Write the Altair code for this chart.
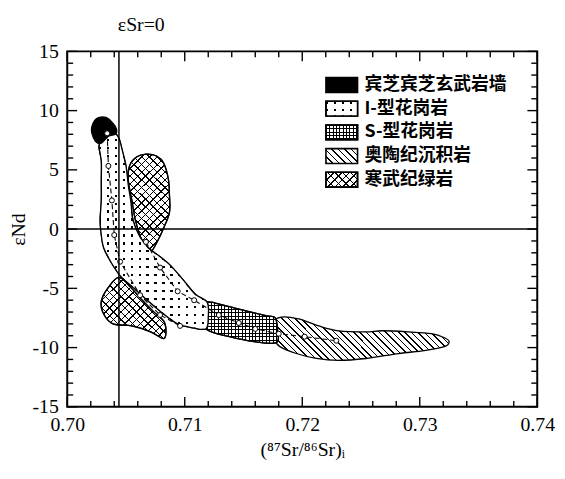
import math
import altair as alt
import pandas as pd

# ---------------- data ----------------
X0, X1 = 0.70, 0.74
Y0, Y1 = -15, 15
W, H = 476, 360

x_major = [0.70, 0.71, 0.72, 0.73, 0.74]
y_major = [-15, -10, -5, 0, 5, 10, 15]
x_minor = [round(0.70 + 0.002 * i, 3) for i in range(21) if i % 5]
y_minor = [v for v in range(-14, 15) if v % 5]

esr0_x = 0.7044   # εSr = 0 reference line

basalt_x = [0.7021, 0.7021, 0.7025, 0.7033, 0.7039, 0.7042, 0.7041, 0.7035, 0.7029, 0.7024]
basalt_y = [8.08, 8.67, 9.33, 9.42, 8.92, 8.42, 8.0, 7.83, 7.25, 7.42]

itype_x = [0.7030, 0.7035, 0.7040, 0.7044, 0.7047, 0.7050, 0.7052, 0.7054, 0.7056, 0.7061,
           0.7069, 0.7079, 0.7088, 0.7099, 0.7109, 0.7119, 0.7120, 0.7118, 0.7107, 0.7094,
           0.7082, 0.7069, 0.7056, 0.7045, 0.7037, 0.7031, 0.7029, 0.7028, 0.7029, 0.7029,
           0.7029, 0.7027]
itype_y = [7.92, 8.25, 8.17, 7.67, 6.58, 5.33, 3.67, 2.42, 0.75, -0.5,
           -1.58, -2.33, -3.08, -4.33, -5.5, -6.17, -7.42, -8.42, -8.33, -8.0,
           -7.17, -6.08, -4.92, -3.92, -2.75, -1.58, -0.5, 0.75, 2.42, 4.08,
           5.75, 7.0]

stype_x = [0.7118, 0.7136, 0.7153, 0.7170, 0.7177, 0.7179, 0.7178, 0.7159, 0.7138, 0.7119, 0.7117]
stype_y = [-6.17, -6.5, -6.92, -7.33, -7.5, -8.58, -9.58, -9.5, -9.08, -8.5, -7.42]

ordo_x = [0.7174, 0.7182, 0.7197, 0.7214, 0.7231, 0.7254, 0.7268, 0.7290, 0.7310, 0.7321,
          0.7325, 0.7321, 0.7304, 0.7282, 0.7254, 0.7231, 0.7212, 0.7195, 0.7181, 0.7176]
ordo_y = [-8.0, -7.42, -7.58, -8.17, -8.58, -8.67, -8.58, -8.67, -8.83, -9.17,
          -9.5, -9.92, -10.25, -10.5, -10.92, -11.08, -10.92, -10.5, -9.92, -9.25]

green1_x = [0.7067, 0.7076, 0.7082, 0.7086, 0.7087, 0.7087, 0.7082, 0.7076, 0.7071, 0.7066,
            0.7062, 0.7058, 0.7055, 0.7052, 0.7053, 0.7059]
green1_y = [6.33, 6.17, 5.58, 4.25, 2.83, 1.42, 0.08, -1.17, -1.92, -1.5,
            -0.58, 0.75, 2.42, 4.08, 5.33, 6.08]

green2_x = [0.7044, 0.7035, 0.7029, 0.7031, 0.7039, 0.7055, 0.7071, 0.7082, 0.7084, 0.7082,
            0.7073, 0.7063, 0.7054]
green2_y = [-4.08, -4.92, -6.08, -7.17, -8.0, -8.17, -8.67, -9.25, -8.58, -7.75,
            -6.92, -5.92, -4.92]

trend1_x = [0.7034, 0.7035, 0.7038, 0.7040, 0.7045, 0.7062, 0.7079, 0.7096]
trend1_y = [8.08, 5.33, 2.42, -0.5, -2.75, -5.58, -7.25, -8.17]
trend2_x = [0.7067, 0.7079, 0.7094, 0.7108, 0.7129, 0.7146, 0.7160, 0.7180, 0.7202, 0.7229]
trend2_y = [-1.08, -3.25, -5.25, -6.0, -7.25, -7.92, -8.42, -8.83, -9.08, -9.42]

legend_labels = ["宾芝宾芝玄武岩墙", "I-型花岗岩", "S-型花岗岩", "奥陶纪沉积岩", "寒武纪绿岩"]

# ---------------- helpers ----------------
PXX = W / (X1 - X0)
PXY = H / (Y1 - Y0)
SERIF = "Liberation Serif"
CJK = "Noto Sans CJK SC"
TRANSP = "rgba(255,255,255,0)"

xsc = alt.Scale(domain=[X0, X1], nice=False, zero=False)
ysc = alt.Scale(domain=[Y0, Y1], nice=False, zero=False)


def stripe_grad(n, frac, line_c, bg_c, x1, y1, x2, y2):
    stops = []
    i = 0
    while i / n < 1:
        a = i / n
        b = min((i + frac) / n, 1.0)
        c = min((i + 1) / n, 1.0)
        stops += [{"offset": round(a, 5), "color": line_c},
                  {"offset": round(b, 5), "color": line_c},
                  {"offset": round(b, 5), "color": bg_c},
                  {"offset": round(c, 5), "color": bg_c}]
        i += 1
    return {"gradient": "linear", "x1": x1, "y1": y1, "x2": x2, "y2": y2, "stops": stops}


def hstripes(w, h, period, lw, line_c, bg_c):
    return stripe_grad(h / period, lw / period, line_c, bg_c, 0, 0, 0, 1)


def vstripes(w, h, period, lw, line_c, bg_c):
    return stripe_grad(w / period, lw / period, line_c, bg_c, 0, 0, 1, 0)


def diag_back(w, h, sp, lw, line_c, bg_c):  # "\" lines
    k = (w + h) / (w * w + h * h)
    return stripe_grad((w + h) / (sp * math.sqrt(2)), lw / sp, line_c, bg_c, 0, 1, k * w, 1 - k * h)


def diag_fwd(w, h, sp, lw, line_c, bg_c):  # "/" lines
    k = (w + h) / (w * w + h * h)
    return stripe_grad((w + h) / (sp * math.sqrt(2)), lw / sp, line_c, bg_c, 0, 0, k * w, k * h)


def fills(kind, w, h):
    if kind == "black":
        return ["black"]
    if kind == "dots":
        return [hstripes(w, h, 8.0, 2.3, "black", "white"), vstripes(w, h, 8.0, 2.3, TRANSP, "white")]
    if kind == "grid":
        return [hstripes(w, h, 3.4, 1.0, "black", "white"), vstripes(w, h, 3.4, 1.0, "black", TRANSP)]
    if kind == "hatch":
        return [diag_back(w, h, 4.6, 1.1, "black", "white")]
    if kind == "cross":
        return [diag_back(w, h, 5.5, 1.0, "black", "white"), diag_fwd(w, h, 5.5, 1.0, "black", TRANSP)]


def poly_layers(xs, ys, kind):
    w = (max(xs) - min(xs)) * PXX
    h = (max(ys) - min(ys)) * PXY
    df = pd.DataFrame({"x": xs, "y": ys, "i": list(range(len(xs)))})
    out = []
    for f in fills(kind, w, h):
        out.append(
            alt.Chart(df).mark_line(interpolate="cardinal-closed", fill=f, stroke="black",
                                    strokeWidth=1.3)
            .encode(x=alt.X("x:Q", scale=xsc, axis=None),
                    y=alt.Y("y:Q", scale=ysc, axis=None),
                    order=alt.Order("i:Q"))
        )
    return out


layers = []

# axis labels and titles
anchor = pd.DataFrame({"x": [0.72], "y": [0.0]})
layers.append(alt.Chart(anchor).mark_point(opacity=0).encode(
    x=alt.X("x:Q", scale=xsc, axis=alt.Axis(
        orient="bottom", values=x_major, format=".2f", ticks=False, domain=False, grid=False,
        labelPadding=8, labelFont=SERIF, labelFontSize=20, labelColor="black",
        labelFlush=False, title="(⁸⁷Sr/⁸⁶Sr)ᵢ", titleFont=SERIF, titleFontSize=20,
        titleFontWeight="normal", titleColor="black", titlePadding=5)),
    y=alt.Y("y:Q", scale=ysc, axis=alt.Axis(
        orient="left", values=y_major, labelExpr="'' + datum.value", ticks=False,
        domain=False, grid=False, labelPadding=9, labelFont=SERIF, labelFontSize=20,
        labelColor="black", labelFlush=False, title="εNd", titleFont=SERIF,
        titleFontSize=20, titleFontWeight="normal", titleColor="black", titlePadding=4)),
))

# fields
layers += poly_layers(ordo_x, ordo_y, "hatch")
layers += poly_layers(stype_x, stype_y, "grid")
layers += poly_layers(green1_x, green1_y, "cross")
layers += poly_layers(green2_x, green2_y, "cross")
layers += poly_layers(itype_x, itype_y, "dots")
layers += poly_layers(basalt_x, basalt_y, "black")

# trend lines with open circles
for tx, ty in [(trend1_x, trend1_y), (trend2_x, trend2_y)]:
    tdf = pd.DataFrame({"x": tx, "y": ty, "i": list(range(len(tx)))})
    layers.append(alt.Chart(tdf).mark_line(color="black", strokeWidth=1.1, strokeDash=[5, 3])
                  .encode(x=alt.X("x:Q", scale=xsc, axis=None), y=alt.Y("y:Q", scale=ysc, axis=None),
                          order=alt.Order("i:Q")))
    layers.append(alt.Chart(tdf).mark_point(shape="circle", filled=True, fill="white", stroke="black",
                                            strokeWidth=1, size=26, opacity=1)
                  .encode(x=alt.X("x:Q", scale=xsc, axis=None), y=alt.Y("y:Q", scale=ysc, axis=None)))

# reference lines
layers.append(alt.Chart(pd.DataFrame({"x": [esr0_x]})).mark_rule(color="black", strokeWidth=1.5)
              .encode(x=alt.X("x:Q", scale=xsc, axis=None)))
layers.append(alt.Chart(pd.DataFrame({"y": [0.0]})).mark_rule(color="black", strokeWidth=1.5)
              .encode(y=alt.Y("y:Q", scale=ysc, axis=None)))

# inward ticks on the four sides: one tiny layer per tick
xpix = f"(datum.tv - {X0}) / {X1 - X0} * {W}"
ypix = f"({Y1} - datum.tv) / {Y1 - Y0} * {H}"
tick_id = 0
for vals, L in [(x_major, 10), (x_minor, 6)]:
    for v in vals:
        for a_expr, b_expr in [(f"{H}", f"{H} - datum.tl"), ("0", "datum.tl")]:
            tick_id += 1
            tdf = pd.DataFrame({"tid": [tick_id], "tv": [v], "tl": [L]})
            layers.append(alt.Chart(tdf).transform_calculate(
                x0=f"{xpix} - 0.7", x1=f"{xpix} + 0.7", y0=a_expr, y1=b_expr)
                .mark_rect(fill="black")
                .encode(x=alt.X("x0:Q", scale=None, axis=None), x2="x1:Q",
                        y=alt.Y("y0:Q", scale=None, axis=None), y2="y1:Q"))
for vals, L in [(y_major, 10), (y_minor, 6)]:
    for v in vals:
        for a_expr, b_expr in [("0", "datum.tl"), (f"{W}", f"{W} - datum.tl")]:
            tick_id += 1
            tdf = pd.DataFrame({"tid": [tick_id], "tv": [v], "tl": [L]})
            layers.append(alt.Chart(tdf).transform_calculate(
                y0=f"{ypix} - 0.7", y1=f"{ypix} + 0.7", x0=a_expr, x1=b_expr)
                .mark_rect(fill="black")
                .encode(x=alt.X("x0:Q", scale=None, axis=None), x2="x1:Q",
                        y=alt.Y("y0:Q", scale=None, axis=None), y2="y1:Q"))

# εSr=0 label above the frame
layers.append(alt.Chart(pd.DataFrame({"x": [0.7063], "y": [17.25], "t": ["εSr=0"]}))
              .mark_text(font=SERIF, fontSize=20, color="black", baseline="middle")
              .encode(x=alt.X("x:Q", scale=xsc, axis=None), y=alt.Y("y:Q", scale=ysc, axis=None),
                      text="t:N"))

# legend (pattern swatches + labels)
leg_kinds = ["black", "dots", "grid", "hatch", "cross"]
SW_W, SW_H = 32, 15
for r, (lab, kind) in enumerate(zip(legend_labels, leg_kinds)):
    ldf = pd.DataFrame({"row": [r], "label": [lab]})
    base = alt.Chart(ldf).transform_calculate(
        cy="34 + datum.row * 24",
        y0="34 + datum.row * 24 - 7.5",
        y1="34 + datum.row * 24 + 7.5",
        x0="262",
        x1="294",
        tx="301",
    )
    for f in fills(kind, SW_W, SW_H):
        layers.append(base.mark_rect(fill=f, stroke="black", strokeWidth=1.6).encode(
            x=alt.X("x0:Q", scale=None, axis=None), x2="x1:Q",
            y=alt.Y("y0:Q", scale=None, axis=None), y2="y1:Q"))
    layers.append(base.mark_text(font=CJK, fontSize=18, fontWeight="bold", color="black",
                                 align="left", baseline="middle").encode(
        x=alt.X("tx:Q", scale=None, axis=None), y=alt.Y("cy:Q", scale=None, axis=None),
        text="label:N"))

chart = (
    alt.layer(*layers)
    .properties(width=W, height=H, autosize=alt.AutoSizeParams(type="none"),
                padding={"left": 60, "top": 41, "right": 20, "bottom": 57},
                background="white")
    .resolve_axis(x="independent", y="independent")
    .configure_view(stroke="black", strokeWidth=2)
)

chart.save("out.html", embed_options={"renderer": "svg", "actions": False})
